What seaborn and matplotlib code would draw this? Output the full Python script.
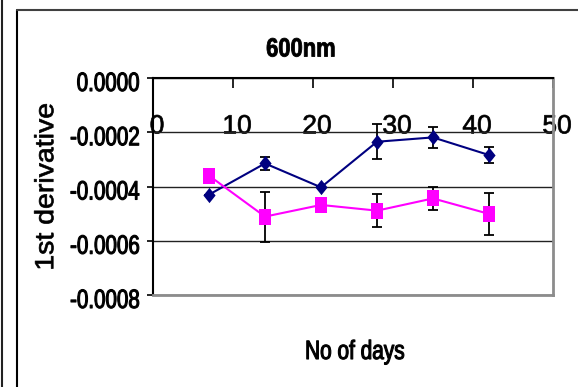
import matplotlib
matplotlib.use("Agg")
import matplotlib.pyplot as plt
import matplotlib.transforms as mtransforms
from matplotlib.lines import Line2D
from matplotlib.patheffects import AbstractPathEffect
import seaborn as sns
import pandas as pd

# Measurements: first derivative at 600 nm over storage time
days = [7, 14, 21, 28, 35, 42]
series_a = [-0.00043, -0.000315, -0.000403, -0.000235, -0.000219, -0.000284]
series_a_err = [0.0, 0.000025, 0.0, 0.000065, 0.00004, 0.000028]
series_b = [-0.00036, -0.000511, -0.000468, -0.000489, -0.000444, -0.000501]
series_b_err = [0.0, 0.000092, 0.0, 0.0000615, 0.000044, 0.0000768]

x_ticks = [0, 10, 20, 30, 40, 50]
y_ticks = [0.0, -0.0002, -0.0004, -0.0006, -0.0008]
y_tick_labels = ["0.0000", "-0.0002", "-0.0004", "-0.0006", "-0.0008"]


class GlyphScale(AbstractPathEffect):
    """Scale glyph height in the text's own frame, with an optional thin outline.

    The vertical scale is applied about the baseline (or the ink centre), so the
    horizontal layout of the text is unchanged.
    """

    def __init__(self, sy=1.0, about="baseline", stroke=0.0):
        super().__init__()
        self.sy = sy
        self.about = about
        self.stroke = stroke

    def draw_path(self, renderer, gc, tpath, affine, rgbFace=None):
        if self.about == "center":
            ext = tpath.get_extents()
            cy = ext.y0 + 0.5 * ext.height
        else:
            cy = 0.0
        t = (mtransforms.Affine2D().translate(0, -cy).scale(1.0, self.sy)
             .translate(0, cy)) + affine
        renderer.draw_path(gc, tpath, t, rgbFace)
        if self.stroke > 0 and rgbFace is not None:
            gc0 = renderer.new_gc()
            gc0.copy_properties(gc)
            gc0.set_linewidth(self.stroke)
            gc0.set_foreground(rgbFace)
            renderer.draw_path(gc0, tpath, t, None)
            gc0.restore()


sns.set_style("white")
regular = ["Liberation Sans", "DejaVu Sans"]
plt.rcParams["font.family"] = regular
for key in ("text.color", "axes.labelcolor", "xtick.color", "ytick.color"):
    plt.rcParams[key] = "black"

fig = plt.figure(figsize=(5.78, 3.87), dpi=100)
ax = fig.add_axes([153 / 578, 1 - 295 / 387, 400 / 578, 217 / 387])

df = pd.DataFrame({"day": days, "a": series_a, "b": series_b})

diamond = [(0, 1), (0.8, 0), (0, -1), (-0.8, 0), (0, 1)]
square = [(-0.77, -1), (0.77, -1), (0.77, 1), (-0.77, 1), (-0.77, -1)]

ax.errorbar(days, series_a, yerr=series_a_err, fmt="none", ecolor="black",
            elinewidth=1.3, capsize=3.6, capthick=1.3, zorder=2)
sns.lineplot(data=df, x="day", y="a", color="#000080", marker=diamond,
             markersize=11, markeredgewidth=0, linewidth=1.5, ax=ax, zorder=3)
ax.errorbar(days, series_b, yerr=series_b_err, fmt="none", ecolor="black",
            elinewidth=1.3, capsize=3.6, capthick=1.3, zorder=4)
sns.lineplot(data=df, x="day", y="b", color="#FF00FF", marker=square,
             markersize=11, markeredgewidth=0, linewidth=1.5, ax=ax, zorder=5)

ax.set_xlim(0, 50)
ax.set_ylim(-0.0008, 0.0)
ax.set_xticks(x_ticks)
ax.set_xticklabels([str(t) for t in x_ticks], fontsize=19,
                   path_effects=[GlyphScale(stroke=0.5)])
ax.set_yticks(y_ticks)
ax.set_yticklabels(y_tick_labels, fontsize=14.8,
                   path_effects=[GlyphScale(1.29, stroke=0.8)])

ax.tick_params(axis="x", top=True, bottom=False, labeltop=True, labelbottom=False,
               direction="in", length=7, width=1.2, color="black", pad=-43.5)
ax.tick_params(axis="y", left=True, direction="out", length=4.5, width=1.2,
               color="black", pad=5)

# Excel-style label offsets
dx = mtransforms.ScaledTranslation(4 / 100, 0, fig.dpi_scale_trans)
dy = mtransforms.ScaledTranslation(0, -5.5 / 100, fig.dpi_scale_trans)
for t in ax.xaxis.get_major_ticks():
    t.label2.set_transform(t.label2.get_transform() + dx)
for t in ax.yaxis.get_major_ticks():
    t.label1.set_transform(t.label1.get_transform() + dy)

ax.yaxis.grid(True, color="#222222", linewidth=1.0)
ax.xaxis.grid(False)
ax.set_axisbelow(True)

ax.spines["top"].set_color("black")
ax.spines["top"].set_linewidth(1.5)
ax.spines["left"].set_color("black")
ax.spines["left"].set_linewidth(1.5)
ax.spines["right"].set_color("#8c8c8c")
ax.spines["right"].set_linewidth(2)
ax.spines["bottom"].set_color("#8c8c8c")
ax.spines["bottom"].set_linewidth(2)

ax.set_xlabel("")
ax.set_ylabel("1st derivative", fontsize=20.5,
              path_effects=[GlyphScale(0.92, about="center", stroke=0.5)])
ax.yaxis.set_label_coords(-(153 - 47) / 400, 1 - (187 - 78) / 217)
ax.yaxis.label.set_va("center")

fig.text(301 / 578, 1 - 56.5 / 387, "600nm", ha="center", va="baseline",
         fontsize=15.8, fontweight="bold", path_effects=[GlyphScale(1.2, stroke=0.6)])
fig.text(355 / 578, 1 - 359 / 387, "No of days", ha="center", va="baseline",
         fontsize=15, path_effects=[GlyphScale(1.27, stroke=0.8)])

# Outer frame lines
fig.add_artist(Line2D([1.5 / 578, 1.5 / 578], [0, 1], transform=fig.transFigure,
                      color="#222222", linewidth=1.5))
fig.add_artist(Line2D([16.5 / 578, 16.5 / 578], [0, 1 - 10 / 387],
                      transform=fig.transFigure, color="black", linewidth=1.5))
fig.add_artist(Line2D([16.5 / 578, 1], [1 - 10 / 387, 1 - 10 / 387],
                      transform=fig.transFigure, color="#404040", linewidth=1.5))

fig.savefig("out.png", dpi=100)
